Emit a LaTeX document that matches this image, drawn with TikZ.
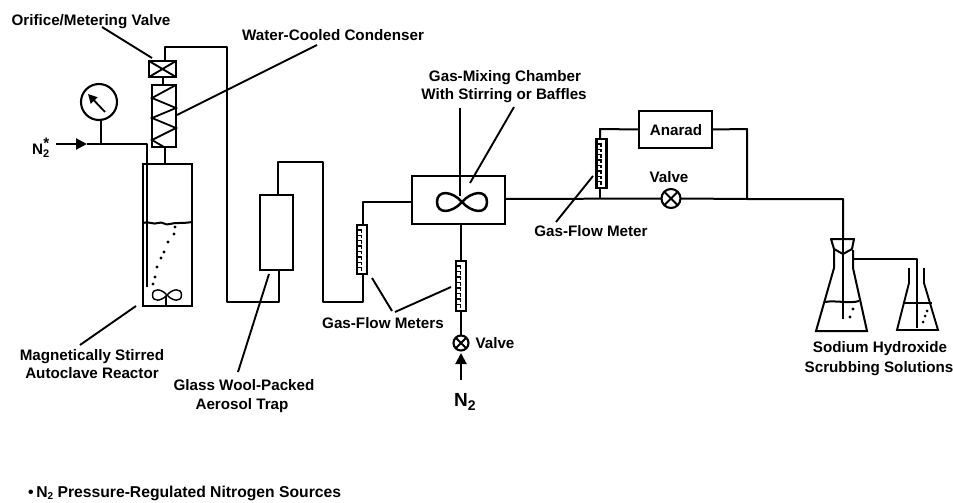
\documentclass[tikz,border=0pt]{standalone}
\usepackage{fontspec}
\setmainfont{Liberation Sans}
\newfontfamily\lab{Liberation Sans}
\usetikzlibrary{arrows.meta,calc}
\tikzset{
  pipe/.style={line width=2pt,line join=round},
  thin pipe/.style={line width=1.6pt,line join=round},
  leader/.style={line width=1.9pt},
  box/.style={draw,line width=2.1pt,inner sep=0pt,outer sep=0pt},
  txt/.style={font=\lab\bfseries\fontsize{15.2}{17}\selectfont,inner sep=0pt,align=center,text depth=0pt},
  ball/.style={draw,circle,line width=2.1pt,inner sep=0pt,outer sep=0pt,fill=white},
  head/.style={-{Triangle[length=11pt,width=11pt]}},
}
\newcommand{\xvalve}[1]{\draw[line width=1.9pt] (#1.north west) -- (#1.south east) (#1.north east) -- (#1.south west);}
\newcommand{\xball}[1]{\draw[line width=1.9pt] (#1.45) -- (#1.225) (#1.135) -- (#1.315);}
\newcommand{\meterticks}[1]{\foreach \f in {0.1,0.21,...,0.95}{\draw[line width=1.3pt] ($(#1.north west)!\f!(#1.south west)$) -- ++(4.5,0) -- ++(0,3);}}
\newcommand{\infin}[3]{% x y halfwidth
  \draw[line width=#3*0.1pt] (#1,#2) .. controls (#1+#3*0.4,#2-#3*0.45) and (#1+#3,#2-#3*0.5) .. (#1+#3,#2)
   .. controls (#1+#3,#2+#3*0.5) and (#1+#3*0.4,#2+#3*0.45) .. (#1,#2)
   .. controls (#1-#3*0.4,#2-#3*0.45) and (#1-#3,#2-#3*0.5) .. (#1-#3,#2)
   .. controls (#1-#3,#2+#3*0.5) and (#1-#3*0.4,#2+#3*0.45) .. (#1,#2);}
\begin{document}
\begin{tikzpicture}[x=1pt,y=-1pt]
\useasboundingbox (0,0) rectangle (953,503);
% ---------- equipment
\node[box,minimum width=27pt,minimum height=16pt] (orifice) at (162.5,69) {};
\node[box,minimum width=24pt,minimum height=62pt] (cond) at (164,116) {};
\node[box,minimum width=49pt,minimum height=142pt] (reactor) at (167.5,235) {};
\node[box,minimum width=33pt,minimum height=75pt] (trap) at (276.5,232.5) {};
\node[box,minimum width=10pt,minimum height=49pt] (meterA) at (362,249.5) {};
\node[box,minimum width=10pt,minimum height=50pt] (meterB) at (461,286) {};
\node[box,minimum width=10pt,minimum height=49pt] (meterC) at (601.5,163.5) {};
\node[box,minimum width=93pt,minimum height=48pt] (chamber) at (458.5,200) {};
\node[box,minimum width=73pt,minimum height=37pt] (anarad) at (675.5,129.5) {};
\node[ball,minimum size=19pt] (valveA) at (671,198.5) {};
\node[ball,minimum size=15pt] (valveB) at (461,343) {};
\node[ball,minimum size=36pt] (gauge) at (99,102) {};
\xvalve{orifice}
\xball{valveA}
\xball{valveB}
\meterticks{meterA}\meterticks{meterB}\meterticks{meterC}
\draw[line width=1.8pt] (cond.north east) -- (152,98) -- (176,108) -- (152,118) -- (176,128) -- (152,140) -- (164,147);
\draw[-{Triangle[length=9pt,width=9pt]},line width=1.8pt] (105,112) -- (88,94);
% reactor details
\draw[line width=2pt] (143,223) .. controls (150,221) and (153,225) .. (158,223) .. controls (163,221) and (165,226) .. (170,224) .. controls (176,222) and (180,224) .. (192,222);
\foreach \p in {(175,227),(174,234),(168,242),(164,252),(161,258),(157,267),(155,277),(153,284)} \fill \p circle (1.6pt);
\infin{167}{295}{14.5}
\draw[line width=1.8pt] (166,296) -- (166,306);
\infin{462}{202}{25}
% ---------- coordinates
\coordinate (n2s) at (56,144);
\coordinate (n2m) at (87,144);
\coordinate (tubeEnd) at (147,287);
\coordinate (n2bot) at (461,380);
\coordinate (n2arr) at (461,353);
\coordinate (mixtop) at (460,108);
\coordinate (mixend) at (460,196);
\coordinate (j1) at (747,199);
\coordinate (drop) at (843,199);
% ---------- flasks
\coordinate (fTop) at (843,239);
\coordinate (fTipe) at (843,319);
\coordinate (f2e) at (917,328);
\coordinate (fSide) at (853,259);
\draw[pipe,fill=white] (831,239) -- (854,239) -- (852,249) -- (843,254) -- (834,249) -- cycle;
\draw[line width=2pt] (834,249) -- (834,268) -- (816,331) -- (867,331) -- (853,268) -- (853,250);
\draw[line width=2pt] (825,302) .. controls (835,300) and (850,304) .. (859,301);
\fill (853,309) circle (1.6pt) (850,317) circle (1.6pt);
\draw[line width=1.9pt] (909,268) -- (909,283) -- (897,330) -- (938,330) -- (924,283) -- (924,268);
\draw[line width=2pt] (903,303) -- (932,303);
\fill (927,311) circle (1.5pt) (925,316) circle (1.5pt) (923,322) circle (1.5pt);
% ---------- connectors
\draw[pipe] (orifice.south) -- (orifice.south |- cond.north);
\draw[pipe] (165,147) -- (165,164);
\draw[pipe] (165,61) -- (165,47) -- (227,47) -- (227,302) -- (279,302) -- (279,270);
\draw[pipe] (278,195) -- (278,162) -- (323,162) -- (323,302) -- (363,302) -- (363,274);
\draw[pipe] (363,225) -- (363,202) -- (412,202);
\draw[pipe] (mixtop) -- (mixend);
\draw[pipe] (chamber.south -| meterB) -- (meterB.north);
\draw[pipe] (meterB.south) -- (valveB.north);
\draw[pipe] (505,199) -- (valveA.west);
\draw[pipe] (valveA.east) -- (j1) -- (drop) -- (fTop);
\draw[thin pipe] (fTop) -- (fTipe);
\draw[pipe] (600,188) -- (600,199);
\draw[pipe] (600,139) -- (600,129) -- (anarad.west);
\draw[pipe] (anarad.east) -- (747,129) -- (j1);
\draw[pipe] (fSide) -- (917,259) -- (f2e);
% N2 inlet
\draw[pipe,head] (n2s) -- (n2m);
\draw[pipe] (n2m) -- (147,144) -- (tubeEnd);
\draw[pipe] (101,120) -- (101,144);
% N2 lower
\draw[pipe,head] (n2bot) -- (n2arr);
% ---------- leaders
\draw[leader] (102,27) -- (152,58);
\draw[leader] (317,45) -- (177,115);
\draw[leader] (136,306) -- (80,345);
\draw[leader] (269,274) -- (238,372);
\draw[leader] (470,183) -- (514,107);
\draw[leader] (593,176) -- (556,222);
\draw[leader] (372,278) -- (392,311);
\draw[leader] (395,312) -- (451,287);
% ---------- labels
\node[txt] (t1) at (91,20) {Orifice/Metering Valve};
\node[txt] (t2) at (333,35) {Water-Cooled Condenser};
\node[txt] (t3) at (505,76) {Gas-Mixing Chamber};
\node[txt] (t4) at (504,94) {With Stirring or Baffles};
\node[txt] (t5) at (676,130) {Anarad};
\node[txt] (t6) at (669,177) {Valve};
\node[txt] (t7) at (591,231) {Gas-Flow Meter};
\node[txt] (t8) at (92,355) {Magnetically Stirred};
\node[txt] (t9) at (92,373) {Autoclave Reactor};
\node[txt] (t10) at (244,385) {Glass Wool-Packed};
\node[txt] (t11) at (242,404) {Aerosol Trap};
\node[txt] (t12) at (383,323) {Gas-Flow Meters};
\node[txt] (t13) at (495,343) {Valve};
\node[txt,font=\lab\bfseries\fontsize{19}{21}\selectfont,anchor=west] (t14) at (454,400) {N\raisebox{-4pt}{\fontsize{14}{14}\selectfont 2}};
\node[txt,anchor=west] (t15) at (32,146) {N\raisebox{-3pt}{\fontsize{11}{11}\selectfont 2}\raisebox{6pt}{\kern-6pt *}};
\node[txt] (t16) at (880,347) {Sodium Hydroxide};
\node[txt] (t17) at (879,367) {Scrubbing Solutions};
\node[txt,font=\lab\bfseries\fontsize{15.7}{17}\selectfont,anchor=west] (t18) at (28,492) {•\,N\raisebox{-2pt}{\fontsize{10}{10}\selectfont 2} Pressure-Regulated Nitrogen Sources};
\end{tikzpicture}
\end{document}
